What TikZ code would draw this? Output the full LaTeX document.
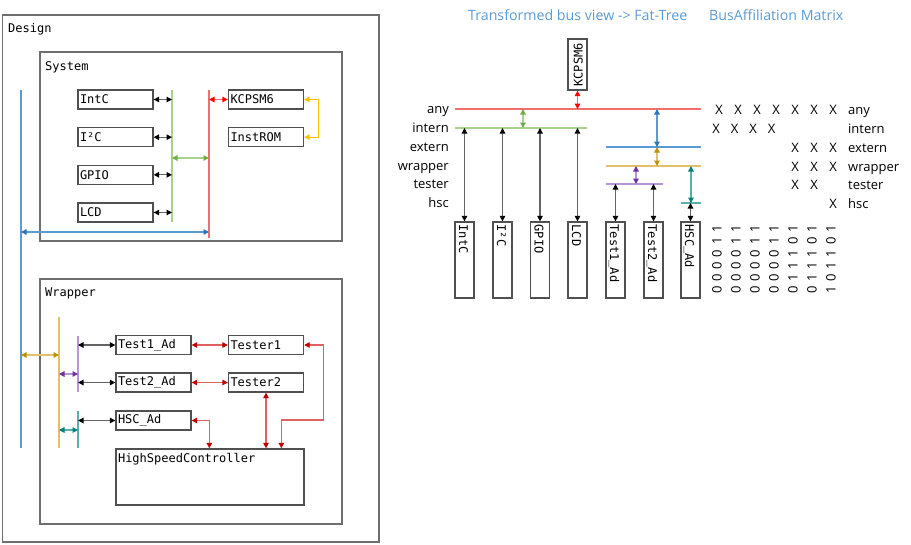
\documentclass[tikz,border=0pt]{standalone}
\usepackage{fontspec}
\setmainfont{Open Sans}
\newfontfamily\codefont{DejaVu Sans Mono}
\usetikzlibrary{arrows.meta}

\definecolor{framegray}{RGB}{110,110,110}
\definecolor{boxline}{RGB}{80,80,80}
\definecolor{titleblue}{RGB}{91,155,213}
\definecolor{busred}{RGB}{245,110,110}
\definecolor{tipred}{RGB}{255,0,0}
\definecolor{busgreen}{RGB}{169,209,142}
\definecolor{tipgreen}{RGB}{112,173,71}
\definecolor{busblue}{RGB}{91,155,213}
\definecolor{tipblue}{RGB}{46,117,182}
\definecolor{busgold}{RGB}{226,192,105}
\definecolor{tipgold}{RGB}{191,144,0}
\definecolor{busorange}{RGB}{255,192,0}
\definecolor{buspurple}{RGB}{180,150,215}
\definecolor{tippurple}{RGB}{112,48,160}
\definecolor{busteal}{RGB}{90,175,170}
\definecolor{tipteal}{RGB}{0,128,128}
\definecolor{linkgray}{RGB}{100,100,100}
\definecolor{linkred}{RGB}{225,95,95}
\definecolor{tipdarkred}{RGB}{192,0,0}

% underscore sitting a little higher, for the narrow upright blocks
\newcommand{\hiscore}{\raisebox{1.6pt}{\_}}

\tikzset{
  mono/.style={font=\codefont\fontsize{12}{14}\selectfont},
  sans/.style={font=\fontsize{13}{15}\selectfont},
  headline/.style={font=\fontsize{14.2}{16}\selectfont, text=titleblue, anchor=base west, inner sep=0pt},
  container/.style={draw=framegray, line width=1.3pt},
  hbox/.style={draw=boxline, line width=1.3pt, fill=white, minimum width=75pt,
    minimum height=19pt, text width=71pt, inner xsep=2pt, inner ysep=0pt,
    align=left, mono},
  vbox/.style={draw=boxline, line width=1.3pt, fill=white, minimum width=19pt,
    minimum height=76pt, inner sep=0pt},
  vtext/.style={mono, inner sep=0pt, text height=8pt, text depth=0pt},
  bus/.style={draw=#1, line width=1.7pt},
  link/.style 2 args={draw=#1, line width=1.3pt,
    arrows={Triangle[length=5.5pt,width=5.5pt,color=#2]-Triangle[length=5.5pt,width=5.5pt,color=#2]}},
}

\begin{document}
\begin{tikzpicture}[x=1pt,y=-1pt]
\useasboundingbox (0,0) rectangle (911,544);

% ---------------- hierarchical view ----------------
\draw[container] (2.5,15) rectangle (379,542);
\node[mono, anchor=base west, inner sep=0pt] at (8,32) {Design};

\draw[container] (40,52) rectangle (342,241);
\node[mono, anchor=base west, inner sep=0pt] at (45,70) {System};

\draw[container] (40,279) rectangle (342,524);
\node[mono, anchor=base west, inner sep=0pt] at (45,296.5) {Wrapper};

% system blocks
\node[hbox] (intc) at (115.5,99.5) {IntC};
\node[hbox] (i2c)  at (115.5,137.2) {I²C};
\node[hbox] (gpio) at (115.5,174.8) {GPIO};
\node[hbox] (lcd)  at (115.5,212.5) {LCD};
\node[hbox] (kcpsm) at (266,99.5) {KCPSM6};
\node[hbox] (instrom) at (266,137.2) {InstROM};

% wrapper blocks
\node[hbox] (tad1) at (153.5,345) {Test1\_Ad};
\node[hbox] (tad2) at (153.5,382.5) {Test2\_Ad};
\node[hbox] (hscad) at (153.5,420.5) {HSC\_Ad};
\node[hbox] (tester1) at (266,345) {Tester1};
\node[hbox] (tester2) at (266,382.5) {Tester2};
\node[draw=boxline, line width=1.3pt, minimum width=188pt, minimum height=56pt,
  inner sep=0pt] (hsc) at (210,477) {};
\node[mono, anchor=base west, inner sep=0pt] at ([shift={(2.5,14)}]hsc.north west) {HighSpeedController};

% bus bars
\coordinate (extT) at (21,90);   \coordinate (extB) at (21,448);
\coordinate (intT) at (172,90);  \coordinate (intB) at (172,222);
\coordinate (anyT) at (209,90);  \coordinate (anyB) at (209,238);
\coordinate (wrpT) at (59,317);  \coordinate (wrpB) at (59,448);
\coordinate (tstT) at (78,336);  \coordinate (tstB) at (78,392);
\coordinate (hscT) at (78,411);  \coordinate (hscB) at (78,448);
\draw[bus=busblue]   (extT) -- (extB);
\draw[bus=busgreen]  (intT) -- (intB);
\draw[bus=busred]    (anyT) -- (anyB);
\draw[bus=busgold]   (wrpT) -- (wrpB);
\draw[bus=buspurple] (tstT) -- (tstB);
\draw[bus=busteal]   (hscT) -- (hscB);

% system links
\foreach \n in {intc,i2c,gpio,lcd}
  \draw[link={linkgray}{black}] (\n.east) -- (\n.east -| intT);
\draw[link={busgreen}{tipgreen}] ([yshift=-68pt]intT) -- ([yshift=-68pt]anyT);
\draw[link={busred}{tipred}] (kcpsm.west -| anyT) -- (kcpsm.west);
\draw[link={busorange}{busorange}] (kcpsm.east) -- ++(14,0) |- (instrom.east);
\draw[link={busblue}{tipblue}] ([yshift=-142pt]extT) -- ([yshift=-142pt]anyT);

% wrapper links
\draw[link={busgold}{tipgold}] ([yshift=-19pt]tstT -| extT) -- ([yshift=-19pt]tstT -| wrpT);
\draw[link={buspurple}{tippurple}] ([yshift=-38pt]tstT -| wrpT) -- ([yshift=-38pt]tstT);
\draw[link={busteal}{tipteal}] ([yshift=-19pt]hscT -| wrpT) -- ([yshift=-19pt]hscT);
\draw[link={linkgray}{black}] (tad1.west -| tstT) -- (tad1.west);
\draw[link={linkgray}{black}] (tad2.west -| tstT) -- (tad2.west);
\draw[link={linkgray}{black}] (hscad.west -| hscT) -- (hscad.west);
\draw[link={linkred}{tipdarkred}] (tad1.east) -- (tester1.west);
\draw[link={linkred}{tipdarkred}] (tad2.east) -- (tester2.west);
\draw[link={linkred}{tipdarkred}] (hscad.east) -| ([xshift=94pt]hsc.north west);
\draw[link={linkred}{tipdarkred}] (tester2.south) -- (tester2.south |- hsc.north);
\draw[link={linkred}{tipdarkred}] (tester1.east) -- ++(19,0) -- ++(0,75) -| ([xshift=166pt]hsc.north west);

% ---------------- fat-tree view ----------------
\node[headline] at (468,20.5) {Transformed bus view -> Fat-Tree};
\node[headline] at (709,20.5) {BusAffiliation Matrix};

\node[draw=boxline, line width=1.3pt, fill=white, minimum width=19pt, minimum height=51pt,
  inner sep=0pt] (rkc) at (577.5,64.5) {};
\node[vtext, rotate=90, anchor=west] at ([shift={(1,-4)}]rkc.south) {KCPSM6};

% bus levels
\coordinate (fAnyL) at (455,109);  \coordinate (fAnyR) at (701,109);
\coordinate (fIntL) at (455,128);  \coordinate (fIntR) at (587,128);
\coordinate (fExtL) at (606,147);  \coordinate (fExtR) at (701,147);
\coordinate (fWrpL) at (606,166);  \coordinate (fWrpR) at (701,166);
\coordinate (fTstL) at (606,184);  \coordinate (fTstR) at (663,184);
\coordinate (fHscL) at (681,203);  \coordinate (fHscR) at (701,203);
\draw[bus=busred]    (fAnyL) -- (fAnyR);
\draw[bus=busgreen]  (fIntL) -- (fIntR);
\draw[bus=busblue]   (fExtL) -- (fExtR);
\draw[bus=busgold]   (fWrpL) -- (fWrpR);
\draw[bus=buspurple] (fTstL) -- (fTstR);
\draw[bus=busteal]   (fHscL) -- (fHscR);

\foreach \lbl/\yy in {any/109,intern/128,extern/147,wrapper/166,tester/184,hsc/203}
  \node[sans, anchor=base east, inner sep=0pt] at (449,\yy+4.6) {\lbl};

% leaf blocks
\node[vbox] (rintc) at (464.5,260) {};
\node[vbox] (ri2c)  at (502.5,260) {};
\node[vbox] (rgpio) at (540,260) {};
\node[vbox] (rlcd)  at (577.5,260) {};
\node[vbox] (rtad1) at (615.5,260) {};
\node[vbox] (rtad2) at (653.5,260) {};
\node[vbox] (rhscad) at (690.5,260) {};
\foreach \n/\t in {rintc/IntC,ri2c/I²C,rgpio/GPIO,rlcd/LCD,rtad1/Test1\hiscore Ad,rtad2/Test2\hiscore Ad,rhscad/HSC\hiscore Ad}
  \node[vtext, rotate=-90, anchor=west] at ([shift={(-1.5,3)}]\n.north) {\t};

% level links
\draw[link={busred}{tipred}] (rkc.south) -- (rkc.south |- fAnyL);
\draw[link={busgreen}{tipgreen}] ([xshift=68pt]fAnyL) -- ([xshift=68pt]fIntL);
\draw[link={busblue}{tipblue}] ([xshift=51pt]fAnyL -| fExtL) -- ([xshift=51pt]fExtL);
\draw[link={busgold}{tipgold}] ([xshift=51pt]fExtL) -- ([xshift=51pt]fWrpL);
\draw[link={buspurple}{tippurple}] ([xshift=30pt]fWrpL) -- ([xshift=30pt]fWrpL |- fTstL);
\draw[link={busteal}{tipteal}] ([xshift=10pt]fWrpL -| fHscL) -- ([xshift=10pt]fHscL);
\foreach \n in {rintc,ri2c,rgpio,rlcd}
  \draw[link={linkgray}{black}] (\n.north |- fIntL) -- (\n.north);
\foreach \n in {rtad1,rtad2}
  \draw[link={linkgray}{black}] (\n.north |- fTstL) -- (\n.north);
\draw[link={linkgray}{black}] (rhscad.north |- fHscL) -- (rhscad.north);

% affiliation matrix
\foreach \xx in {719,738,757,776,795,814,833}
  \node[sans, anchor=base, inner sep=0pt] at (\xx,114.4) {X};
\foreach \xx in {716,734.5,753,771.5}
  \node[sans, anchor=base, inner sep=0pt] at (\xx,133.2) {X};
\foreach \xx in {795,814,833} {
  \node[sans, anchor=base, inner sep=0pt] at (\xx,152) {X};
  \node[sans, anchor=base, inner sep=0pt] at (\xx,171) {X};
}
\foreach \xx in {795,814}
  \node[sans, anchor=base, inner sep=0pt] at (\xx,189.5) {X};
\node[sans, anchor=base, inner sep=0pt] at (833,208.3) {X};
\foreach \lbl/\yy in {any/114.4,intern/133.2,extern/152,wrapper/171,tester/189.5,hsc/208.3}
  \node[sans, anchor=base west, inner sep=0pt] at (848,\yy) {\lbl};

% bit vectors, read bottom to top
\foreach \xx/\ra/\rb/\rc/\rd/\re/\rf in {718/1/1/0/0/0/0,737/1/1/0/0/0/0,756/1/1/0/0/0/0,
    775/1/1/0/0/0/0,794/1/0/1/1/1/0,813/1/0/1/1/1/0,832/1/0/1/1/0/1} {
  \foreach \yy/\bit in {229/\ra,241.2/\rb,253.4/\rc,265.6/\rd,277.8/\re,290/\rf}
    \node[sans, rotate=90, inner sep=0pt, text height=7pt, text depth=0pt] at (\xx,\yy) {\bit};
}
\end{tikzpicture}
\end{document}
